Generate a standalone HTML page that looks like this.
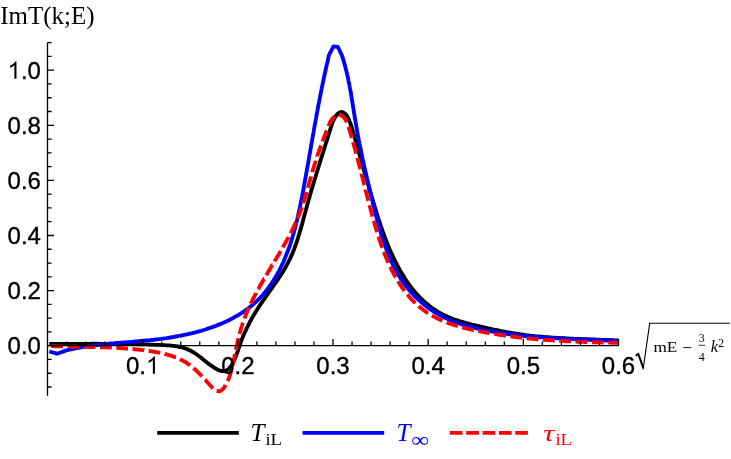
<!DOCTYPE html>
<html><head><meta charset="utf-8"><title>ImT(k;E)</title>
<style>
html,body{margin:0;padding:0;background:#fff;}
body{width:731px;height:459px;overflow:hidden;}
svg{display:block;will-change:transform}
.sans{font-family:"Liberation Sans",sans-serif;font-size:24px;fill:#000}
.serif{font-family:"Liberation Serif",serif;fill:#000}
</style></head><body>
<svg width="731" height="459" viewBox="0 0 731 459">
<rect width="731" height="459" fill="#fff"/>
<!-- curves -->
<g fill="none" stroke-linejoin="round">
<path d="M49.3,344.0 L51.6,344.0 L53.8,344.0 L56.1,343.9 L58.3,343.9 L60.6,343.9 L62.8,343.9 L65.0,343.9 L67.3,343.9 L69.5,343.8 L71.7,343.8 L73.9,343.8 L76.1,343.8 L78.3,343.8 L80.5,343.8 L82.7,343.8 L84.9,343.8 L87.1,343.8 L89.3,343.8 L91.5,343.7 L93.7,343.7 L95.9,343.7 L98.0,343.7 L100.2,343.8 L102.4,343.8 L104.6,343.8 L106.8,343.8 L108.9,343.8 L111.1,343.8 L113.3,343.8 L115.5,343.8 L117.7,343.9 L119.9,343.9 L122.0,343.9 L124.2,343.9 L126.4,344.0 L128.6,344.0 L130.8,344.1 L133.0,344.1 L135.2,344.1 L137.4,344.2 L139.7,344.3 L141.9,344.3 L144.1,344.4 L146.3,344.4 L148.6,344.5 L150.8,344.6 L153.1,344.7 L155.3,344.8 L157.6,344.8 L159.8,344.9 L162.1,345.0 L164.4,345.1 L166.7,345.3 L168.9,345.4 L171.2,345.6 L173.4,345.9 L175.6,346.2 L177.8,346.5 L180.0,347.0 L182.1,347.5 L184.2,348.1 L186.2,348.8 L188.2,349.6 L190.1,350.5 L192.0,351.5 L193.8,352.6 L195.6,353.7 L197.4,355.0 L199.1,356.3 L200.9,357.6 L202.6,359.0 L204.4,360.4 L206.1,361.8 L207.9,363.2 L209.7,364.6 L211.6,365.9 L213.5,367.2 L215.4,368.5 L217.4,369.5 L219.3,370.4 L221.2,371.0 L223.1,371.2 L224.9,371.0 L226.6,370.4 L228.2,369.3 L229.8,367.7 L231.2,365.8 L232.5,363.6 L233.7,361.4 L234.7,359.0 L235.7,356.8 L236.5,354.6 L237.3,352.5 L238.0,350.4 L238.7,348.4 L239.4,346.4 L240.0,344.4 L240.7,342.3 L241.5,340.3 L242.3,338.3 L243.1,336.3 L244.0,334.3 L244.8,332.3 L245.8,330.3 L246.7,328.3 L247.7,326.3 L248.7,324.3 L249.7,322.3 L250.8,320.4 L251.8,318.4 L252.9,316.5 L254.1,314.5 L255.2,312.6 L256.4,310.7 L257.6,308.9 L258.8,307.0 L260.0,305.1 L261.2,303.3 L262.5,301.5 L263.8,299.6 L265.0,297.8 L266.3,296.0 L267.6,294.2 L268.8,292.4 L270.1,290.6 L271.4,288.8 L272.7,287.0 L273.9,285.2 L275.2,283.4 L276.4,281.6 L277.7,279.8 L278.9,278.0 L280.1,276.2 L281.3,274.3 L282.4,272.5 L283.6,270.6 L284.7,268.7 L285.8,266.8 L286.8,264.9 L287.9,263.0 L288.9,261.0 L289.9,259.1 L290.8,257.1 L291.7,255.1 L292.6,253.0 L293.4,251.0 L294.2,248.9 L295.0,246.8 L295.7,244.7 L296.5,242.6 L297.2,240.5 L297.9,238.3 L298.5,236.2 L299.2,234.1 L299.8,231.9 L300.5,229.7 L301.1,227.6 L301.7,225.4 L302.3,223.2 L302.9,221.1 L303.4,218.9 L304.0,216.8 L304.6,214.6 L305.2,212.5 L305.8,210.3 L306.3,208.2 L306.9,206.1 L307.5,203.9 L308.1,201.8 L308.7,199.7 L309.3,197.6 L309.9,195.5 L310.5,193.5 L311.1,191.4 L311.7,189.3 L312.4,187.2 L313.0,185.1 L313.6,183.1 L314.2,181.0 L314.8,178.9 L315.5,176.8 L316.1,174.8 L316.7,172.7 L317.4,170.6 L318.0,168.5 L318.7,166.4 L319.3,164.3 L320.0,162.2 L320.6,160.1 L321.3,158.0 L322.0,155.9 L322.6,153.8 L323.3,151.6 L324.0,149.5 L324.6,147.3 L325.3,145.1 L326.0,143.0 L326.7,140.8 L327.4,138.6 L328.1,136.3 L328.8,134.1 L329.5,131.9 L330.2,129.6 L330.9,127.3 L331.6,125.1 L332.4,122.8 L333.3,120.7 L334.3,118.6 L335.5,116.7 L336.8,114.9 L338.2,113.4 L339.8,112.4 L341.4,112.0 L343.0,112.3 L344.6,113.3 L346.0,114.7 L347.4,116.6 L348.6,118.9 L349.6,121.4 L350.6,123.9 L351.5,126.5 L352.2,128.9 L352.9,131.2 L353.5,133.4 L354.1,135.5 L354.6,137.5 L355.2,139.5 L355.7,141.5 L356.3,143.5 L356.9,145.6 L357.4,147.7 L358.0,149.8 L358.6,151.9 L359.3,154.0 L359.9,156.2 L360.5,158.3 L361.1,160.5 L361.8,162.7 L362.4,164.8 L363.1,167.0 L363.7,169.2 L364.3,171.3 L365.0,173.5 L365.6,175.7 L366.2,177.8 L366.9,179.9 L367.5,182.1 L368.1,184.2 L368.7,186.3 L369.3,188.4 L369.9,190.5 L370.5,192.6 L371.1,194.7 L371.7,196.7 L372.3,198.8 L373.0,200.9 L373.6,203.0 L374.2,205.0 L374.8,207.1 L375.4,209.2 L376.1,211.2 L376.7,213.3 L377.4,215.4 L378.0,217.5 L378.7,219.6 L379.4,221.7 L380.1,223.7 L380.8,225.8 L381.5,227.9 L382.3,230.1 L383.0,232.2 L383.8,234.3 L384.5,236.4 L385.3,238.5 L386.1,240.6 L387.0,242.7 L387.8,244.8 L388.7,246.9 L389.5,248.9 L390.4,251.0 L391.3,253.1 L392.3,255.1 L393.2,257.2 L394.2,259.2 L395.2,261.2 L396.2,263.2 L397.2,265.2 L398.3,267.2 L399.3,269.1 L400.4,271.1 L401.6,273.0 L402.7,274.9 L403.9,276.8 L405.1,278.7 L406.3,280.5 L407.5,282.3 L408.8,284.1 L410.1,285.9 L411.4,287.6 L412.7,289.3 L414.1,291.0 L415.5,292.6 L417.0,294.2 L418.4,295.8 L419.9,297.4 L421.4,298.9 L423.0,300.4 L424.6,301.8 L426.2,303.3 L427.8,304.6 L429.5,306.0 L431.2,307.3 L433.0,308.5 L434.8,309.7 L436.6,310.9 L438.4,312.1 L440.3,313.1 L442.2,314.2 L444.2,315.2 L446.2,316.1 L448.2,317.0 L450.3,317.9 L452.3,318.7 L454.5,319.5 L456.6,320.2 L458.8,320.9 L460.9,321.6 L463.1,322.2 L465.3,322.9 L467.5,323.5 L469.7,324.0 L472.0,324.6 L474.2,325.1 L476.4,325.7 L478.6,326.2 L480.8,326.7 L483.0,327.2 L485.2,327.7 L487.3,328.2 L489.5,328.6 L491.7,329.1 L493.8,329.6 L496.0,330.0 L498.1,330.4 L500.3,330.9 L502.4,331.3 L504.6,331.7 L506.7,332.1 L508.8,332.4 L511.0,332.8 L513.1,333.2 L515.3,333.5 L517.4,333.8 L519.6,334.2 L521.7,334.5 L523.9,334.8 L526.0,335.1 L528.2,335.3 L530.4,335.6 L532.6,335.8 L534.8,336.1 L536.9,336.3 L539.1,336.5 L541.3,336.7 L543.5,336.9 L545.8,337.1 L548.0,337.2 L550.2,337.4 L552.4,337.6 L554.6,337.7 L556.8,337.9 L559.0,338.0 L561.3,338.1 L563.5,338.2 L565.7,338.4 L567.9,338.5 L570.2,338.6 L572.4,338.7 L574.6,338.8 L576.9,338.9 L579.1,339.0 L581.3,339.1 L583.5,339.1 L585.8,339.2 L588.0,339.3 L590.2,339.4 L592.4,339.5 L594.6,339.5 L596.9,339.6 L599.1,339.7 L601.3,339.8 L603.5,339.9 L605.7,339.9 L607.9,340.0 L610.1,340.1 L612.3,340.2 L614.4,340.3 L616.6,340.4 L618.8,340.5" stroke="#000" stroke-width="3.85"/>
<path d="M49.3,351.5 L57.1,353.7 L65.6,350.6 L67.4,350.2 L69.3,349.7 L71.1,349.3 L72.9,348.9 L74.7,348.5 L76.6,348.2 L78.4,347.8 L80.2,347.5 L82.0,347.2 L83.9,346.9 L85.7,346.6 L87.5,346.3 L89.3,346.0 L91.1,345.8 L93.0,345.5 L94.8,345.3 L96.6,345.1 L98.4,344.8 L100.2,344.6 L102.1,344.4 L103.9,344.2 L105.7,344.0 L107.5,343.9 L109.4,343.7 L111.2,343.5 L113.0,343.3 L114.8,343.2 L116.7,343.0 L118.5,342.9 L120.3,342.7 L122.2,342.6 L124.0,342.4 L125.8,342.3 L127.6,342.1 L129.5,342.0 L131.3,341.8 L133.2,341.7 L135.0,341.5 L136.8,341.4 L138.7,341.2 L140.5,341.0 L142.4,340.9 L144.2,340.7 L146.1,340.5 L147.9,340.3 L149.8,340.2 L151.6,340.0 L153.5,339.8 L155.3,339.5 L157.2,339.3 L159.1,339.1 L160.9,338.9 L162.8,338.6 L164.7,338.3 L166.5,338.1 L168.4,337.8 L170.3,337.5 L172.2,337.2 L174.0,336.9 L175.9,336.5 L177.8,336.2 L179.6,335.9 L181.5,335.5 L183.4,335.1 L185.2,334.7 L187.1,334.3 L188.9,333.9 L190.8,333.5 L192.6,333.0 L194.5,332.6 L196.3,332.1 L198.1,331.6 L200.0,331.1 L201.8,330.6 L203.6,330.0 L205.4,329.5 L207.2,328.9 L208.9,328.3 L210.7,327.7 L212.5,327.1 L214.2,326.4 L216.0,325.8 L217.7,325.1 L219.4,324.4 L221.1,323.7 L222.8,323.0 L224.5,322.2 L226.2,321.5 L227.8,320.7 L229.5,319.9 L231.1,319.0 L232.7,318.2 L234.3,317.3 L235.9,316.4 L237.5,315.5 L239.0,314.6 L240.6,313.6 L242.1,312.7 L243.6,311.7 L245.1,310.6 L246.5,309.6 L248.0,308.5 L249.4,307.4 L250.8,306.3 L252.2,305.2 L253.5,304.0 L254.9,302.8 L256.2,301.6 L257.5,300.4 L258.8,299.1 L260.0,297.9 L261.3,296.5 L262.5,295.2 L263.6,293.9 L264.8,292.5 L265.9,291.1 L267.1,289.7 L268.2,288.2 L269.2,286.7 L270.3,285.3 L271.3,283.8 L272.3,282.2 L273.3,280.7 L274.3,279.1 L275.3,277.6 L276.2,276.0 L277.1,274.4 L278.0,272.7 L278.9,271.1 L279.7,269.5 L280.6,267.8 L281.4,266.1 L282.2,264.4 L283.0,262.7 L283.8,261.0 L284.5,259.3 L285.2,257.6 L285.9,255.8 L286.6,254.1 L287.3,252.3 L288.0,250.6 L288.6,248.8 L289.3,247.0 L289.9,245.3 L290.5,243.5 L291.1,241.7 L291.6,239.9 L292.2,238.1 L292.7,236.3 L293.3,234.5 L293.8,232.7 L294.3,230.9 L294.8,229.1 L295.3,227.3 L295.7,225.5 L296.2,223.7 L296.6,221.9 L297.1,220.0 L297.5,218.2 L297.9,216.4 L298.3,214.6 L298.7,212.7 L299.1,210.9 L299.5,209.1 L299.9,207.3 L300.3,205.4 L300.6,203.6 L301.0,201.8 L301.4,199.9 L301.7,198.1 L302.1,196.3 L302.4,194.4 L302.8,192.6 L303.1,190.8 L303.5,188.9 L303.8,187.1 L304.1,185.3 L304.5,183.5 L304.8,181.6 L305.1,179.8 L305.5,178.0 L305.8,176.2 L306.1,174.3 L306.4,172.5 L306.8,170.7 L307.1,168.9 L307.4,167.0 L307.7,165.2 L308.1,163.4 L308.4,161.6 L308.7,159.8 L309.0,158.0 L309.3,156.1 L309.6,154.3 L310.0,152.5 L310.3,150.7 L310.6,148.9 L310.9,147.1 L311.2,145.2 L311.5,143.4 L311.9,141.6 L312.2,139.8 L312.5,138.0 L312.8,136.2 L313.1,134.4 L313.5,132.6 L313.8,130.7 L314.1,128.9 L314.4,127.1 L314.7,125.3 L315.1,123.5 L315.4,121.7 L315.7,119.9 L316.1,118.1 L316.4,116.3 L316.7,114.4 L317.0,112.6 L317.4,110.8 L317.7,109.0 L318.1,107.2 L318.4,105.4 L318.7,103.6 L319.1,101.8 L319.4,100.0 L319.8,98.1 L320.1,96.3 L320.5,94.5 L320.9,92.7 L321.2,90.9 L321.6,89.1 L321.9,87.3 L322.3,85.5 L322.7,83.7 L323.1,81.8 L323.5,80.0 L323.8,78.2 L324.2,76.4 L324.6,74.6 L325.0,72.8 L325.4,71.0 L325.8,69.1 L326.2,67.3 L326.6,65.5 L327.0,63.7 L327.5,61.9 L327.9,60.1 L328.3,58.2 L328.7,56.4 L329.2,54.6 L333.5,46.4 L337.9,47.0 L341.9,55.3 L342.5,57.1 L343.0,58.9 L343.6,60.7 L344.1,62.5 L344.6,64.3 L345.1,66.1 L345.6,67.9 L346.0,69.7 L346.5,71.6 L346.9,73.4 L347.3,75.2 L347.8,77.1 L348.2,78.9 L348.5,80.8 L348.9,82.6 L349.3,84.5 L349.6,86.3 L350.0,88.2 L350.3,90.1 L350.7,91.9 L351.0,93.8 L351.3,95.7 L351.6,97.5 L351.9,99.4 L352.2,101.3 L352.5,103.1 L352.8,105.0 L353.1,106.9 L353.4,108.7 L353.7,110.6 L354.0,112.5 L354.3,114.3 L354.6,116.2 L354.9,118.1 L355.2,119.9 L355.5,121.8 L355.9,123.6 L356.2,125.5 L356.5,127.3 L356.8,129.2 L357.1,131.0 L357.5,132.8 L357.8,134.7 L358.1,136.5 L358.5,138.3 L358.8,140.1 L359.2,142.0 L359.5,143.8 L359.9,145.6 L360.3,147.4 L360.6,149.2 L361.0,151.1 L361.4,152.9 L361.8,154.7 L362.2,156.5 L362.5,158.3 L362.9,160.1 L363.3,161.9 L363.7,163.7 L364.1,165.6 L364.5,167.4 L364.9,169.2 L365.3,171.0 L365.8,172.8 L366.2,174.6 L366.6,176.4 L367.0,178.3 L367.4,180.1 L367.9,181.9 L368.3,183.7 L368.7,185.5 L369.1,187.4 L369.6,189.2 L370.0,191.0 L370.5,192.9 L370.9,194.7 L371.3,196.5 L371.8,198.4 L372.2,200.2 L372.7,202.1 L373.1,203.9 L373.6,205.8 L374.0,207.6 L374.5,209.5 L375.0,211.4 L375.4,213.2 L375.9,215.1 L376.4,217.0 L376.9,218.8 L377.4,220.7 L377.9,222.5 L378.4,224.4 L378.9,226.2 L379.4,228.1 L380.0,229.9 L380.5,231.8 L381.1,233.6 L381.6,235.5 L382.2,237.3 L382.8,239.1 L383.4,240.9 L384.0,242.7 L384.6,244.5 L385.3,246.3 L385.9,248.1 L386.6,249.9 L387.3,251.7 L388.0,253.4 L388.7,255.2 L389.4,256.9 L390.1,258.7 L390.9,260.4 L391.7,262.1 L392.5,263.8 L393.3,265.5 L394.1,267.1 L395.0,268.8 L395.9,270.4 L396.8,272.1 L397.7,273.7 L398.6,275.3 L399.6,276.8 L400.6,278.4 L401.6,280.0 L402.6,281.5 L403.7,283.0 L404.8,284.5 L405.9,286.0 L407.0,287.4 L408.2,288.9 L409.4,290.3 L410.6,291.7 L411.8,293.1 L413.1,294.4 L414.3,295.8 L415.6,297.1 L417.0,298.4 L418.3,299.6 L419.7,300.9 L421.1,302.1 L422.5,303.3 L423.9,304.5 L425.4,305.6 L426.8,306.8 L428.3,307.9 L429.8,308.9 L431.4,310.0 L432.9,311.0 L434.5,312.0 L436.1,313.0 L437.7,313.9 L439.3,314.8 L440.9,315.7 L442.6,316.6 L444.3,317.4 L446.0,318.2 L447.7,319.0 L449.4,319.8 L451.1,320.5 L452.9,321.2 L454.6,321.8 L456.4,322.5 L458.2,323.1 L460.0,323.7 L461.8,324.3 L463.6,324.8 L465.4,325.4 L467.2,325.9 L469.1,326.4 L470.9,326.9 L472.7,327.4 L474.6,327.8 L476.4,328.3 L478.3,328.7 L480.1,329.1 L482.0,329.5 L483.8,329.9 L485.7,330.3 L487.6,330.6 L489.4,331.0 L491.3,331.3 L493.1,331.7 L495.0,332.0 L496.9,332.3 L498.7,332.6 L500.6,332.9 L502.5,333.2 L504.3,333.5 L506.2,333.8 L508.1,334.0 L510.0,334.3 L511.8,334.5 L513.7,334.7 L515.6,335.0 L517.4,335.2 L519.3,335.4 L521.2,335.6 L523.1,335.8 L525.0,336.0 L526.8,336.2 L528.7,336.4 L530.6,336.5 L532.5,336.7 L534.3,336.8 L536.2,337.0 L538.1,337.1 L540.0,337.3 L541.9,337.4 L543.7,337.5 L545.6,337.7 L547.5,337.8 L549.4,337.9 L551.3,338.0 L553.1,338.1 L555.0,338.2 L556.9,338.3 L558.8,338.4 L560.7,338.5 L562.6,338.6 L564.4,338.7 L566.3,338.8 L568.2,338.9 L570.1,339.0 L572.0,339.0 L573.8,339.1 L575.7,339.2 L577.6,339.3 L579.5,339.3 L581.4,339.4 L583.2,339.5 L585.1,339.6 L587.0,339.6 L588.9,339.7 L590.7,339.8 L592.6,339.8 L594.5,339.9 L596.4,340.0 L598.2,340.1 L600.1,340.1 L602.0,340.2 L603.9,340.3 L605.7,340.4 L607.6,340.5 L609.5,340.5 L611.3,340.6 L613.2,340.7 L615.1,340.8 L616.9,340.9 L618.8,341.0" stroke="#0000ff" stroke-width="3.85"/>
<path d="M51.2,346.1 L51.8,346.1 L52.4,346.1 L53.1,346.2 L53.7,346.2 L54.3,346.2 L54.9,346.2 L55.6,346.3 L56.2,346.3 L56.8,346.3 L57.4,346.3 L58.0,346.3 L58.7,346.3 L59.3,346.4 L59.9,346.4 L60.5,346.4 L61.1,346.4 L61.7,346.4 L62.3,346.4 L63.0,346.5 L63.0,346.5 M67.5,346.6 L67.8,346.6 L68.4,346.6 L69.1,346.6 L69.7,346.6 L70.3,346.6 L70.9,346.6 L71.5,346.6 L72.1,346.7 L72.7,346.7 L73.3,346.7 L73.9,346.7 L74.5,346.7 L75.1,346.7 L75.7,346.7 L76.3,346.7 L76.9,346.7 L77.5,346.8 L78.1,346.8 L78.7,346.8 L79.3,346.8 M83.7,346.9 L84.1,346.9 L84.7,346.9 L85.3,346.9 L85.9,346.9 L86.5,346.9 L87.1,346.9 L87.7,346.9 L88.3,346.9 L88.9,347.0 L89.5,347.0 L90.1,347.0 L90.7,347.0 L91.3,347.0 L91.8,347.0 L92.4,347.0 L93.0,347.0 L93.6,347.1 L94.2,347.1 L94.8,347.1 L95.4,347.1 L95.5,347.1 M100.0,347.2 L100.2,347.2 L100.7,347.2 L101.3,347.3 L101.9,347.3 L102.5,347.3 L103.1,347.3 L103.7,347.3 L104.3,347.3 L104.9,347.4 L105.5,347.4 L106.1,347.4 L106.7,347.4 L107.3,347.5 L107.9,347.5 L108.5,347.5 L109.1,347.5 L109.6,347.5 L110.2,347.6 L110.8,347.6 L111.4,347.6 L111.8,347.6 M116.3,347.9 L116.8,347.9 L117.4,347.9 L118.0,347.9 L118.6,348.0 L119.2,348.0 L119.8,348.1 L120.3,348.1 L120.9,348.1 L121.5,348.2 L122.1,348.2 L122.7,348.2 L123.3,348.3 L123.9,348.3 L124.5,348.4 L125.1,348.4 L125.7,348.5 L126.3,348.5 L126.9,348.5 L127.5,348.6 L128.0,348.6 M132.5,349.0 L132.9,349.0 L133.5,349.1 L134.1,349.2 L134.8,349.2 L135.4,349.3 L136.0,349.3 L136.6,349.4 L137.2,349.5 L137.8,349.5 L138.4,349.6 L139.0,349.7 L139.6,349.7 L140.2,349.8 L140.8,349.9 L141.4,349.9 L142.0,350.0 L142.7,350.1 L143.3,350.1 L143.9,350.2 L144.2,350.3 M148.7,350.9 L148.8,350.9 L149.4,351.0 L150.0,351.1 L150.6,351.2 L151.2,351.2 L151.8,351.3 L152.5,351.4 L153.1,351.5 L153.7,351.6 L154.3,351.7 L154.9,351.9 L155.5,352.0 L156.1,352.1 L156.7,352.2 L157.3,352.3 L157.9,352.4 L158.6,352.5 L159.2,352.7 L159.8,352.8 L160.3,352.9 M164.6,353.9 L165.1,354.1 L165.7,354.2 L166.3,354.4 L166.9,354.5 L167.5,354.7 L168.1,354.9 L168.7,355.0 L169.2,355.2 L169.8,355.4 L170.4,355.6 L171.0,355.7 L171.6,355.9 L172.1,356.1 L172.7,356.3 L173.3,356.5 L173.8,356.7 L174.4,356.9 L174.9,357.1 L175.5,357.4 L175.9,357.5 M180.0,359.3 L180.4,359.5 L180.9,359.7 L181.4,360.0 L182.0,360.2 L182.5,360.5 L183.0,360.8 L183.5,361.1 L184.0,361.4 L184.5,361.6 L185.0,361.9 L185.5,362.2 L186.0,362.5 L186.5,362.8 L187.0,363.2 L187.5,363.5 L187.9,363.8 L188.4,364.1 L188.9,364.5 L189.4,364.8 L189.8,365.1 L190.1,365.3 M193.6,368.1 L193.9,368.4 L194.3,368.8 L194.8,369.2 L195.2,369.6 L195.6,370.0 L196.1,370.4 L196.5,370.8 L196.9,371.2 L197.4,371.6 L197.8,372.1 L198.2,372.5 L198.6,372.9 L199.1,373.3 L199.5,373.8 L199.9,374.2 L200.3,374.6 L200.8,375.1 L201.2,375.5 L201.6,376.0 L202.0,376.4 M205.0,379.7 L205.5,380.1 L205.9,380.6 L206.3,381.1 L206.8,381.6 L207.2,382.1 L207.6,382.5 L208.1,383.0 L208.5,383.5 L209.0,384.0 L209.4,384.5 L209.9,385.0 L210.3,385.5 L210.8,386.0 L211.3,386.5 L211.7,386.9 L212.2,387.4 L212.6,387.9 L213.1,388.3 M216.7,390.8 L216.8,390.8 L217.3,391.0 L217.8,391.1 L218.2,391.2 L218.7,391.2 L219.1,391.2 L219.6,391.2 L220.0,391.0 L220.5,390.8 L220.9,390.6 L221.4,390.3 L221.8,390.0 L222.2,389.6 L222.6,389.2 L223.1,388.7 L223.5,388.2 L223.9,387.7 L224.3,387.2 L224.6,386.6 L225.0,386.0 L225.4,385.5 L225.6,385.0 M227.7,381.1 L227.9,380.7 L228.1,380.1 L228.4,379.5 L228.6,378.9 L228.8,378.3 L229.1,377.8 L229.3,377.2 L229.5,376.6 L229.7,376.0 L229.9,375.5 L230.0,374.9 L230.2,374.3 L230.4,373.7 L230.6,373.2 L230.7,372.6 L230.9,372.0 L231.0,371.4 L231.2,370.9 L231.3,370.3 L231.4,369.9 M232.4,365.6 L232.6,365.1 L232.7,364.5 L232.8,363.9 L233.0,363.4 L233.1,362.8 L233.2,362.2 L233.3,361.6 L233.5,361.0 L233.6,360.4 L233.7,359.8 L233.9,359.2 L234.0,358.6 L234.1,358.1 L234.2,357.5 L234.4,356.9 L234.5,356.3 L234.6,355.7 L234.7,355.1 L234.9,354.5 L234.9,354.1 M235.8,349.8 L235.9,349.7 L236.0,349.1 L236.1,348.5 L236.2,347.9 L236.4,347.3 L236.5,346.7 L236.6,346.2 L236.8,345.6 L236.9,345.0 L237.0,344.4 L237.1,343.8 L237.3,343.2 L237.4,342.6 L237.6,342.0 L237.7,341.4 L237.8,340.8 L238.0,340.2 L238.1,339.6 L238.2,339.0 L238.4,338.4 L238.4,338.3 M239.5,334.0 L239.6,333.7 L239.7,333.1 L239.9,332.5 L240.1,331.9 L240.2,331.4 L240.4,330.8 L240.5,330.2 L240.7,329.6 L240.9,329.0 L241.1,328.4 L241.2,327.9 L241.4,327.3 L241.6,326.7 L241.8,326.1 L242.0,325.6 L242.1,325.0 L242.3,324.4 L242.5,323.8 L242.7,323.3 L242.9,322.7 L242.9,322.7 M244.4,318.5 L244.5,318.2 L244.8,317.6 L245.0,317.1 L245.2,316.5 L245.4,315.9 L245.6,315.4 L245.9,314.8 L246.1,314.3 L246.3,313.7 L246.5,313.2 L246.8,312.6 L247.0,312.1 L247.2,311.5 L247.5,311.0 L247.7,310.4 L247.9,309.9 L248.2,309.3 L248.4,308.8 L248.7,308.2 L248.9,307.7 L248.9,307.6 M250.8,303.6 L250.9,303.3 L251.2,302.8 L251.5,302.3 L251.7,301.7 L252.0,301.2 L252.2,300.6 L252.5,300.1 L252.8,299.6 L253.0,299.0 L253.3,298.5 L253.6,298.0 L253.9,297.4 L254.1,296.9 L254.4,296.4 L254.7,295.8 L255.0,295.3 L255.2,294.8 L255.5,294.2 L255.8,293.7 L256.1,293.2 L256.1,293.1 M258.2,289.2 L258.4,289.0 L258.7,288.4 L258.9,287.9 L259.2,287.4 L259.5,286.9 L259.8,286.3 L260.1,285.8 L260.4,285.3 L260.7,284.8 L261.0,284.3 L261.3,283.7 L261.6,283.2 L261.9,282.7 L262.2,282.2 L262.5,281.6 L262.8,281.1 L263.1,280.6 L263.4,280.1 L263.7,279.6 L264.0,279.0 L264.1,279.0 M266.3,275.2 L266.5,274.9 L266.8,274.4 L267.1,273.9 L267.4,273.3 L267.7,272.8 L268.0,272.3 L268.3,271.8 L268.6,271.3 L268.9,270.8 L269.2,270.2 L269.6,269.7 L269.9,269.2 L270.2,268.7 L270.5,268.2 L270.8,267.7 L271.1,267.1 L271.4,266.6 L271.7,266.1 L272.0,265.6 L272.3,265.1 L272.4,265.1 M274.6,261.3 L274.8,260.9 L275.1,260.4 L275.5,259.9 L275.8,259.4 L276.1,258.9 L276.4,258.3 L276.7,257.8 L277.0,257.3 L277.3,256.8 L277.6,256.3 L277.9,255.7 L278.2,255.2 L278.6,254.7 L278.9,254.2 L279.2,253.7 L279.5,253.1 L279.8,252.6 L280.1,252.1 L280.4,251.6 L280.6,251.1 M282.9,247.3 L283.1,246.9 L283.4,246.3 L283.7,245.8 L284.0,245.3 L284.3,244.8 L284.6,244.2 L284.9,243.7 L285.2,243.2 L285.5,242.7 L285.8,242.1 L286.1,241.6 L286.4,241.1 L286.7,240.5 L286.9,240.0 L287.2,239.5 L287.5,238.9 L287.8,238.4 L288.1,237.9 L288.4,237.4 L288.6,237.0 M290.6,233.1 L290.6,233.1 L290.9,232.5 L291.2,232.0 L291.4,231.5 L291.7,230.9 L292.0,230.4 L292.3,229.8 L292.5,229.3 L292.8,228.7 L293.1,228.2 L293.3,227.7 L293.6,227.1 L293.8,226.6 L294.1,226.0 L294.4,225.5 L294.6,224.9 L294.9,224.4 L295.1,223.8 L295.4,223.3 L295.6,222.7 L295.8,222.5 M297.5,218.4 L297.6,218.3 L297.8,217.7 L298.1,217.2 L298.3,216.6 L298.5,216.0 L298.8,215.5 L299.0,214.9 L299.2,214.4 L299.4,213.8 L299.7,213.2 L299.9,212.7 L300.1,212.1 L300.3,211.5 L300.5,210.9 L300.7,210.4 L300.9,209.8 L301.2,209.2 L301.4,208.7 L301.6,208.1 L301.8,207.5 L301.8,207.4 M303.2,203.3 L303.3,202.9 L303.5,202.3 L303.7,201.7 L303.9,201.1 L304.1,200.5 L304.3,200.0 L304.5,199.4 L304.6,198.8 L304.8,198.2 L305.0,197.6 L305.2,197.0 L305.4,196.4 L305.5,195.9 L305.7,195.3 L305.9,194.7 L306.0,194.1 L306.2,193.5 L306.4,192.9 L306.6,192.3 L306.7,192.0 M307.9,187.7 L307.9,187.6 L308.1,187.1 L308.2,186.5 L308.4,185.9 L308.6,185.3 L308.7,184.7 L308.9,184.1 L309.0,183.5 L309.2,183.0 L309.4,182.4 L309.5,181.8 L309.7,181.2 L309.9,180.6 L310.0,180.1 L310.2,179.5 L310.3,178.9 L310.5,178.3 L310.7,177.7 L310.8,177.2 L311.0,176.6 L311.0,176.4 M312.3,172.1 L312.3,172.0 L312.4,171.5 L312.6,170.9 L312.8,170.3 L312.9,169.8 L313.1,169.2 L313.3,168.6 L313.4,168.1 L313.6,167.5 L313.8,167.0 L314.0,166.4 L314.1,165.9 L314.3,165.3 L314.5,164.7 L314.6,164.2 L314.8,163.6 L315.0,163.1 L315.2,162.5 L315.3,162.0 L315.5,161.4 L315.7,160.9 L315.7,160.8 M317.1,156.6 L317.1,156.5 L317.3,155.9 L317.5,155.4 L317.7,154.8 L317.9,154.3 L318.1,153.7 L318.3,153.2 L318.5,152.6 L318.7,152.1 L318.8,151.5 L319.0,151.0 L319.2,150.4 L319.4,149.9 L319.6,149.3 L319.8,148.7 L320.0,148.2 L320.2,147.6 L320.4,147.1 L320.6,146.5 L320.8,145.9 L321.0,145.5 M322.5,141.4 L322.5,141.4 L322.7,140.8 L323.0,140.2 L323.2,139.6 L323.4,139.0 L323.6,138.5 L323.8,137.9 L324.1,137.3 L324.3,136.7 L324.5,136.1 L324.7,135.5 L325.0,134.9 L325.2,134.3 L325.4,133.7 L325.7,133.1 L325.9,132.5 L326.1,131.9 L326.4,131.2 L326.6,130.6 L326.7,130.4 M328.4,126.2 L328.4,126.2 L328.6,125.6 L328.9,125.0 L329.2,124.4 L329.4,123.7 L329.7,123.1 L330.0,122.5 L330.3,122.0 L330.6,121.4 L330.9,120.8 L331.2,120.3 L331.6,119.8 L331.9,119.3 L332.3,118.8 L332.7,118.3 L333.0,117.9 L333.4,117.4 L333.8,117.0 L334.3,116.7 L334.6,116.4 M338.7,114.8 L339.2,114.8 L339.7,114.9 L340.2,115.0 L340.7,115.2 L341.2,115.4 L341.6,115.6 L342.1,115.9 L342.5,116.3 L343.0,116.6 L343.4,117.0 L343.8,117.4 L344.2,117.9 L344.6,118.3 L344.9,118.8 L345.2,119.3 L345.6,119.8 L345.9,120.4 L346.2,120.9 L346.4,121.5 L346.7,122.0 L346.9,122.4 M348.4,126.6 L348.5,126.8 L348.7,127.4 L348.9,128.1 L349.1,128.7 L349.3,129.3 L349.5,129.9 L349.7,130.6 L349.8,131.2 L350.0,131.8 L350.2,132.4 L350.4,133.0 L350.6,133.6 L350.8,134.2 L350.9,134.9 L351.1,135.5 L351.3,136.1 L351.5,136.7 L351.6,137.3 L351.8,137.9 M353.1,142.2 L353.2,142.7 L353.4,143.3 L353.5,143.9 L353.7,144.5 L353.9,145.1 L354.0,145.7 L354.2,146.3 L354.4,146.9 L354.5,147.4 L354.7,148.0 L354.9,148.6 L355.0,149.2 L355.2,149.8 L355.3,150.4 L355.5,151.0 L355.7,151.5 L355.8,152.1 L356.0,152.7 L356.1,153.3 L356.2,153.6 M357.4,157.9 L357.4,157.9 L357.5,158.5 L357.7,159.1 L357.8,159.6 L358.0,160.2 L358.1,160.8 L358.3,161.4 L358.4,161.9 L358.6,162.5 L358.7,163.1 L358.9,163.6 L359.0,164.2 L359.2,164.8 L359.3,165.4 L359.5,165.9 L359.6,166.5 L359.8,167.1 L359.9,167.6 L360.1,168.2 L360.2,168.8 L360.3,169.3 M361.5,173.7 L361.5,173.9 L361.7,174.4 L361.8,175.0 L361.9,175.6 L362.1,176.1 L362.2,176.7 L362.4,177.3 L362.5,177.8 L362.7,178.4 L362.8,178.9 L362.9,179.5 L363.1,180.1 L363.2,180.6 L363.4,181.2 L363.5,181.8 L363.7,182.3 L363.8,182.9 L363.9,183.5 L364.1,184.0 L364.2,184.6 L364.4,185.1 M365.5,189.4 L365.5,189.7 L365.7,190.3 L365.8,190.8 L366.0,191.4 L366.1,192.0 L366.2,192.5 L366.4,193.1 L366.5,193.7 L366.7,194.3 L366.8,194.8 L367.0,195.4 L367.1,196.0 L367.3,196.5 L367.4,197.1 L367.6,197.7 L367.7,198.3 L367.9,198.8 L368.0,199.4 L368.2,200.0 L368.3,200.6 L368.4,200.9 M369.5,205.2 L369.5,205.2 L369.7,205.8 L369.8,206.4 L370.0,207.0 L370.1,207.5 L370.3,208.1 L370.4,208.7 L370.6,209.3 L370.7,209.9 L370.9,210.5 L371.0,211.1 L371.2,211.7 L371.4,212.3 L371.5,212.8 L371.7,213.4 L371.8,214.0 L372.0,214.6 L372.2,215.2 L372.3,215.8 L372.5,216.4 L372.5,216.6 M373.7,220.9 L373.8,221.1 L374.0,221.7 L374.1,222.3 L374.3,222.9 L374.5,223.5 L374.7,224.1 L374.8,224.7 L375.0,225.3 L375.2,225.9 L375.4,226.5 L375.5,227.1 L375.7,227.7 L375.9,228.3 L376.1,228.9 L376.2,229.5 L376.4,230.1 L376.6,230.7 L376.8,231.3 L377.0,231.9 L377.1,232.2 M378.4,236.5 L378.5,236.6 L378.7,237.2 L378.9,237.8 L379.0,238.4 L379.2,239.0 L379.4,239.6 L379.6,240.2 L379.8,240.8 L380.0,241.4 L380.2,242.0 L380.4,242.5 L380.6,243.1 L380.8,243.7 L381.0,244.3 L381.3,244.9 L381.5,245.5 L381.7,246.1 L381.9,246.7 L382.1,247.2 L382.3,247.7 M383.8,251.9 L383.8,251.9 L384.1,252.5 L384.3,253.1 L384.5,253.6 L384.7,254.2 L385.0,254.8 L385.2,255.4 L385.4,255.9 L385.7,256.5 L385.9,257.1 L386.1,257.6 L386.4,258.2 L386.6,258.8 L386.9,259.4 L387.1,259.9 L387.3,260.5 L387.6,261.1 L387.8,261.6 L388.1,262.2 L388.3,262.7 L388.3,262.8 M390.2,266.8 L390.4,267.2 L390.6,267.7 L390.9,268.3 L391.2,268.8 L391.5,269.4 L391.7,269.9 L392.0,270.5 L392.3,271.0 L392.5,271.5 L392.8,272.1 L393.1,272.6 L393.4,273.2 L393.7,273.7 L394.0,274.2 L394.2,274.8 L394.5,275.3 L394.8,275.8 L395.1,276.3 L395.4,276.9 L395.7,277.3 M397.9,281.2 L398.1,281.5 L398.5,282.0 L398.8,282.5 L399.1,283.0 L399.4,283.5 L399.7,284.0 L400.0,284.5 L400.4,285.0 L400.7,285.5 L401.0,286.0 L401.4,286.5 L401.7,287.0 L402.0,287.5 L402.4,287.9 L402.7,288.4 L403.1,288.9 L403.4,289.4 L403.7,289.9 L404.1,290.3 L404.4,290.8 L404.5,290.9 M407.3,294.5 L407.3,294.5 L407.7,294.9 L408.1,295.4 L408.4,295.8 L408.8,296.3 L409.2,296.7 L409.6,297.2 L410.0,297.6 L410.4,298.0 L410.7,298.5 L411.1,298.9 L411.5,299.3 L411.9,299.7 L412.3,300.1 L412.7,300.6 L413.1,301.0 L413.5,301.4 L413.9,301.8 L414.4,302.2 L414.8,302.6 L415.2,303.0 L415.3,303.1 M418.6,306.1 L419.0,306.5 L419.5,306.9 L419.9,307.2 L420.4,307.6 L420.8,308.0 L421.3,308.3 L421.7,308.7 L422.2,309.1 L422.7,309.4 L423.1,309.8 L423.6,310.1 L424.1,310.4 L424.5,310.8 L425.0,311.1 L425.5,311.5 L426.0,311.8 L426.4,312.1 L426.9,312.4 L427.4,312.8 L427.9,313.1 L428.1,313.2 M431.9,315.5 L432.4,315.8 L432.9,316.1 L433.5,316.4 L434.0,316.6 L434.5,316.9 L435.0,317.2 L435.6,317.5 L436.1,317.7 L436.6,318.0 L437.2,318.3 L437.7,318.5 L438.2,318.8 L438.8,319.0 L439.3,319.3 L439.9,319.5 L440.4,319.8 L441.0,320.0 L441.5,320.3 L442.1,320.5 L442.5,320.7 M446.7,322.4 L447.1,322.6 L447.7,322.8 L448.3,323.0 L448.9,323.2 L449.4,323.4 L450.0,323.6 L450.6,323.8 L451.2,324.0 L451.7,324.2 L452.3,324.4 L452.9,324.6 L453.5,324.8 L454.1,325.0 L454.7,325.2 L455.3,325.4 L455.9,325.5 L456.4,325.7 L457.0,325.9 L457.6,326.1 L457.9,326.2 M462.3,327.4 L462.4,327.4 L463.0,327.6 L463.6,327.8 L464.2,327.9 L464.8,328.1 L465.5,328.2 L466.1,328.4 L466.7,328.5 L467.3,328.7 L467.9,328.8 L468.5,329.0 L469.1,329.1 L469.7,329.3 L470.3,329.4 L470.9,329.5 L471.6,329.7 L472.2,329.8 L472.8,329.9 L473.4,330.1 L473.7,330.1 M478.2,331.1 L478.3,331.1 L478.9,331.2 L479.5,331.3 L480.2,331.5 L480.8,331.6 L481.4,331.7 L482.0,331.8 L482.6,331.9 L483.2,332.0 L483.8,332.2 L484.5,332.3 L485.1,332.4 L485.7,332.5 L486.3,332.6 L486.9,332.7 L487.5,332.8 L488.1,332.9 L488.8,333.0 L489.4,333.1 L489.8,333.2 M494.3,333.9 L494.9,334.0 L495.5,334.1 L496.1,334.2 L496.7,334.3 L497.3,334.4 L497.9,334.5 L498.5,334.6 L499.1,334.7 L499.7,334.8 L500.3,334.9 L500.9,335.0 L501.5,335.1 L502.1,335.1 L502.7,335.2 L503.3,335.3 L503.9,335.4 L504.5,335.5 L505.1,335.6 L505.7,335.7 L505.9,335.7 M510.4,336.3 L510.5,336.3 L511.1,336.4 L511.7,336.5 L512.3,336.5 L512.9,336.6 L513.5,336.7 L514.1,336.8 L514.7,336.8 L515.3,336.9 L515.9,337.0 L516.5,337.1 L517.1,337.1 L517.7,337.2 L518.3,337.3 L518.8,337.3 L519.4,337.4 L520.0,337.5 L520.6,337.5 L521.2,337.6 L521.8,337.7 L522.1,337.7 M526.7,338.2 L527.1,338.3 L527.7,338.3 L528.3,338.4 L528.9,338.4 L529.5,338.5 L530.1,338.6 L530.7,338.6 L531.3,338.7 L531.8,338.7 L532.4,338.8 L533.0,338.8 L533.6,338.9 L534.2,338.9 L534.8,339.0 L535.4,339.1 L536.0,339.1 L536.6,339.2 L537.1,339.2 L537.7,339.3 L538.3,339.3 L538.4,339.3 M542.9,339.7 L543.0,339.7 L543.6,339.8 L544.2,339.8 L544.8,339.8 L545.4,339.9 L546.0,339.9 L546.6,340.0 L547.1,340.0 L547.7,340.1 L548.3,340.1 L548.9,340.1 L549.5,340.2 L550.1,340.2 L550.7,340.3 L551.3,340.3 L551.8,340.4 L552.4,340.4 L553.0,340.4 L553.6,340.5 L554.2,340.5 L554.7,340.5 M559.2,340.8 L559.5,340.8 L560.1,340.9 L560.7,340.9 L561.3,340.9 L561.9,341.0 L562.5,341.0 L563.0,341.0 L563.6,341.1 L564.2,341.1 L564.8,341.1 L565.4,341.2 L566.0,341.2 L566.6,341.2 L567.2,341.2 L567.8,341.3 L568.4,341.3 L569.0,341.3 L569.6,341.4 L570.1,341.4 L570.7,341.4 L571.0,341.4 M575.5,341.6 L576.1,341.6 L576.7,341.7 L577.3,341.7 L577.9,341.7 L578.5,341.7 L579.1,341.8 L579.7,341.8 L580.3,341.8 L580.9,341.8 L581.5,341.9 L582.1,341.9 L582.7,341.9 L583.3,341.9 L583.9,341.9 L584.5,342.0 L585.1,342.0 L585.7,342.0 L586.3,342.0 L586.9,342.0 L587.3,342.1 M591.9,342.2 L592.3,342.2 L592.9,342.2 L593.5,342.2 L594.1,342.3 L594.7,342.3 L595.3,342.3 L595.9,342.3 L596.5,342.3 L597.2,342.3 L597.8,342.4 L598.4,342.4 L599.0,342.4 L599.6,342.4 L600.2,342.4 L600.8,342.4 L601.4,342.4 L602.0,342.5 L602.7,342.5 L603.3,342.5 L603.7,342.5 M608.2,342.6 L608.8,342.6 L609.4,342.6 L610.1,342.6 L610.7,342.6 L611.3,342.7 L611.9,342.7 L612.5,342.7 L613.2,342.7 L613.8,342.7 L614.4,342.7 L615.0,342.7 L615.7,342.7 L616.3,342.8 L616.9,342.8 L617.6,342.8 L618.2,342.8 L618.8,342.8" stroke="#ff0000" stroke-width="3.85"/>
</g>
<!-- axes -->
<g stroke="#000" stroke-width="1.3" fill="none">
<path d="M47.5,42.4 V395.7"/>
<path d="M47.5,345.7 H618.8"/>
<path d="M66.53,345.70 v-4.1 M85.57,345.70 v-4.1 M104.60,345.70 v-4.1 M123.64,345.70 v-4.1 M142.67,345.70 v-6.6 M161.70,345.70 v-4.1 M180.74,345.70 v-4.1 M199.77,345.70 v-4.1 M218.81,345.70 v-4.1 M237.84,345.70 v-6.6 M256.87,345.70 v-4.1 M275.91,345.70 v-4.1 M294.94,345.70 v-4.1 M313.98,345.70 v-4.1 M333.01,345.70 v-6.6 M352.04,345.70 v-4.1 M371.08,345.70 v-4.1 M390.11,345.70 v-4.1 M409.15,345.70 v-4.1 M428.18,345.70 v-6.6 M447.21,345.70 v-4.1 M466.25,345.70 v-4.1 M485.28,345.70 v-4.1 M504.32,345.70 v-4.1 M523.35,345.70 v-6.6 M542.38,345.70 v-4.1 M561.42,345.70 v-4.1 M580.45,345.70 v-4.1 M599.49,345.70 v-4.1 M618.52,345.70 v-6.6 M47.50,387.02 h4.1 M47.50,373.25 h4.1 M47.50,359.47 h4.1 M47.50,345.70 h6.5 M47.50,331.93 h4.1 M47.50,318.15 h4.1 M47.50,304.38 h4.1 M47.50,290.60 h6.5 M47.50,276.82 h4.1 M47.50,263.05 h4.1 M47.50,249.27 h4.1 M47.50,235.50 h6.5 M47.50,221.72 h4.1 M47.50,207.95 h4.1 M47.50,194.17 h4.1 M47.50,180.40 h6.5 M47.50,166.62 h4.1 M47.50,152.85 h4.1 M47.50,139.07 h4.1 M47.50,125.30 h6.5 M47.50,111.52 h4.1 M47.50,97.75 h4.1 M47.50,83.97 h4.1 M47.50,70.20 h6.5 M47.50,56.42 h4.1 M47.50,42.65 h4.1"/>
</g>
<g class="sans" stroke="#000" stroke-width="0.35"><text x="125.99" y="373.80">0.</text><path d="M763 0H583V1147Q518 1085 412.5 1023Q307 961 223 930V1104Q374 1175 487 1276Q600 1377 647 1472H763Z" transform="translate(146.01,373.80) scale(0.01172,-0.01172)" fill="#000"/><text x="221.16" y="373.80">0.2</text><text x="316.33" y="373.80">0.3</text><text x="411.50" y="373.80">0.4</text><text x="506.67" y="373.80">0.5</text><text x="601.84" y="373.80">0.6</text><text x="7.54" y="354.20">0.0</text><text x="7.54" y="299.10">0.2</text><text x="7.54" y="244.00">0.4</text><text x="7.54" y="188.90">0.6</text><text x="7.54" y="133.80">0.8</text><path d="M763 0H583V1147Q518 1085 412.5 1023Q307 961 223 930V1104Q374 1175 487 1276Q600 1377 647 1472H763Z" transform="translate(7.54,78.70) scale(0.01172,-0.01172)" fill="#000"/><text x="20.88" y="78.70">.0</text></g>
<!-- axis labels -->
<text class="serif" x="0.3" y="23.6" font-size="24.6" textLength="94.2" lengthAdjust="spacingAndGlyphs">ImT(k;E)</text>
<g>
<path d="M635.7,355.6 L638.3,354.0 L643.3,368.2" fill="none" stroke="#000" stroke-width="2.0" stroke-linejoin="miter"/>
<path d="M643.1,369.4 L649.7,323.3 H729.8" fill="none" stroke="#000" stroke-width="1.1"/>
<text class="serif" x="653.4" y="352.2" font-size="15.5" textLength="24" lengthAdjust="spacingAndGlyphs">mE</text>
<path d="M683.3,347.6 H691.4" stroke="#000" stroke-width="0.9"/>
<text class="serif" x="701.8" y="341.8" font-size="12" text-anchor="middle">3</text>
<path d="M698.6,345.3 H705.2" stroke="#000" stroke-width="0.8"/>
<text class="serif" x="701.8" y="360.8" font-size="12" text-anchor="middle">4</text>
<text class="serif" x="710.8" y="351.9" font-size="16.5" font-style="italic">k</text>
<text class="serif" x="718.2" y="347.0" font-size="11.8">2</text>
</g>
<!-- legend -->
<g fill="none">
<path d="M157.2,432.85 H238.85" stroke="#000" stroke-width="3.9"/>
<path d="M302.5,432.85 H384.2" stroke="#0000ff" stroke-width="3.9"/>
<path d="M449.85,432.85 H527.9" stroke="#ff0000" stroke-width="3.9" stroke-dasharray="12.7 3.65"/>
</g>
<g class="serif">
<text x="250.4" y="441" font-size="25.2" font-style="italic">T</text>
<text x="265.4" y="444.9" font-size="17.7" textLength="16.6" lengthAdjust="spacingAndGlyphs">iL</text>
<text x="396.6" y="441" font-size="25.2" font-style="italic" fill="#0000ff">T</text>
<text transform="translate(411.3,446.5) scale(1.39,1.17)" font-size="18" fill="#0000ff">∞</text>
<text transform="translate(543.2,441.2) scale(1.2,0.915)" font-size="25.5" font-style="italic" fill="#ff0000">τ</text>
<text x="555.4" y="444.9" font-size="17.7" textLength="16.6" lengthAdjust="spacingAndGlyphs" fill="#ff0000">iL</text>
</g>
</svg>
</body></html>
